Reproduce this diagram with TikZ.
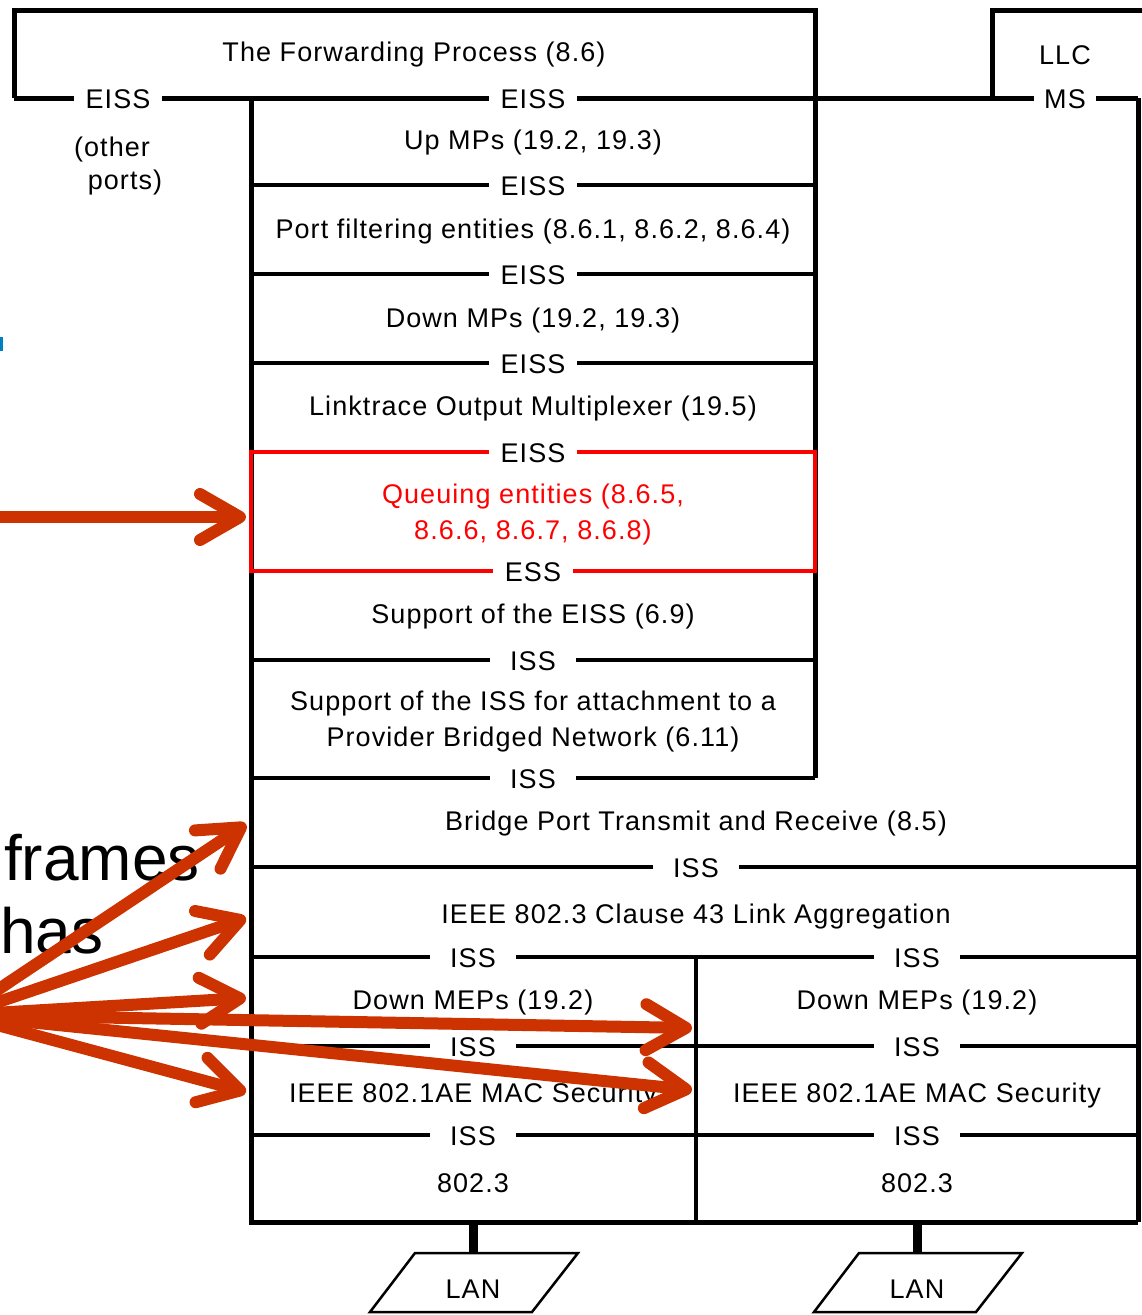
\documentclass[tikz,border=0pt]{standalone}
\usepackage{fontspec}
\setmainfont{Liberation Sans}[LetterSpace=4]
\usetikzlibrary{arrows.meta,calc}
\definecolor{pointer}{RGB}{204,51,0}
\definecolor{hl}{RGB}{255,0,0}
\definecolor{cut}{RGB}{0,128,192}
\newfontfamily\slidefont{Liberation Sans}

\begin{document}
\begin{tikzpicture}[x=1pt,y=-1pt,
  heavy/.style={line width=5pt},
  frame/.style={line width=4pt},
  sap/.style={fill=white, inner xsep=12pt, inner ysep=1pt, yshift=-1pt, font=\fontsize{27}{30}\selectfont},
  layer/.style={font=\fontsize{27}{36}\selectfont, align=center, inner sep=0pt, yshift=-2.5pt},
  big/.style={font=\slidefont\fontsize{64}{70}\selectfont, anchor=base west, inner sep=0pt},
  pointer/.style={draw=pointer, line width=12pt, line cap=round,
    -{Straight Barb[length=40pt,width=46pt,round]}},
  lan/.style={line width=2.5pt, line join=miter}
]
\useasboundingbox (0,0) rectangle (1141,1315);

% --- frame of the bridge port stack ---
\draw[heavy] (14,98) -- (14,10) -- (815,10) -- (815,778);
\draw[heavy] (14,98) -- (1138,98);
\draw[heavy] (992,98) -- (992,10) -- (1145,10);
\draw[heavy] (1138,98) -- (1138,1222);
\draw[heavy] (251,98) -- (251,1222) -- (1138,1222);

% layer boundaries
\foreach \y in {185,274,363,660,778}
  \draw[frame] (251,\y) -- (815,\y);
\foreach \y in {867,957,1046,1135}
  \draw[frame] (251,\y) -- (1138,\y);
\draw[line width=3.5pt] (696,957) -- (696,1222);

% highlighted queuing layer
\draw[hl, frame] (251,452) rectangle (815,571);

% --- layer names ---
\node[layer] (fwd) at (414,52) {The Forwarding Process (8.6)};
\node[layer] (llc) at (1065,53) {LLC};
\node[layer] (oth1) at (112,147) {(other};
\node[layer] (oth2) at (125,180) {ports)};
\node[layer] (upmp) at (533,140) {Up MPs (19.2, 19.3)};
\node[layer] (pfe) at (533,229) {Port filtering entities (8.6.1, 8.6.2, 8.6.4)};
\node[layer] (dnmp) at (533,318) {Down MPs (19.2, 19.3)};
\node[layer] (ltom) at (533,406) {Linktrace Output Multiplexer (19.5)};
\node[layer, text=hl] (queue) at (533,512) {Queuing entities (8.6.5,\\8.6.6, 8.6.7, 8.6.8)};
\node[layer] (seiss) at (533,614) {Support of the EISS (6.9)};
\node[layer] (siss) at (533,719) {Support of the ISS for attachment to a\\Provider Bridged Network (6.11)};
\node[layer] (bptr) at (696,821) {Bridge Port Transmit and Receive (8.5)};
\node[layer] (lag) at (696,914) {IEEE 802.3 Clause 43 Link Aggregation};
\node[layer] (mepA) at (473,1000) {Down MEPs (19.2)};
\node[layer] (mepB) at (917,1000) {Down MEPs (19.2)};
\node[layer] (secA) at (473,1093) {IEEE 802.1AE MAC Security};
\node[layer] (secB) at (917,1093) {IEEE 802.1AE MAC Security};
\node[layer] (macA) at (473,1181) {802.3};
\node[layer] (macB) at (917,1181) {802.3};

% --- service access points on the boundaries ---
\node[sap] at (118,98) {EISS};
\node[sap] at (533,98) {EISS};
\node[sap, inner xsep=10pt] at (1065,98) {MS};
\node[sap] at (533,185) {EISS};
\node[sap] at (533,274) {EISS};
\node[sap] at (533,363) {EISS};
\node[sap] at (533,452) {EISS};
\node[sap] at (533,571) {ESS};
\node[sap, inner xsep=20pt] at (533,660) {ISS};
\node[sap, inner xsep=20pt] at (533,778) {ISS};
\node[sap, inner xsep=20pt] at (696,867) {ISS};
\foreach \x in {473,917}{
  \node[sap, inner xsep=20pt] at (\x,957) {ISS};
  \node[sap, inner xsep=20pt] at (\x,1046) {ISS};
  \node[sap, inner xsep=20pt] at (\x,1135) {ISS};
}

% --- LAN attachments ---
\foreach \x/\n in {473/A,917/B}{
  \coordinate (port\n) at (\x,1222);
  \node[layer] (lan\n) at (\x,1287) {LAN};
  \draw[line width=9pt] (port\n) -- (\x,1254);
  \draw[lan] ($(\x,1253)+(-58,0)$) -- ++(163,0) -- ++(-46,59) -- ++(-162,0) -- cycle;
}

% --- slide text at the left ---
\node[big] (frames) at (4,880) {frames};
\node[big] (has) at (0,953) {has};
\fill[cut] (0,337) rectangle (2.5,351);

% --- pointers ---
\coordinate (src) at (-40,1015);
\coordinate (srcq) at (-20,517);
\coordinate (tq) at (246,517);
\coordinate (tbp) at (246,824);
\coordinate (tlag) at (246,918);
\coordinate (tmepA) at (246,998);
\coordinate (tmepB) at (692,1028);
\coordinate (tsecB) at (692,1090);
\coordinate (tsecA) at (246,1092);
\draw[pointer] (srcq) -- (tq);
\foreach \t in {tbp,tlag,tmepA,tmepB,tsecB,tsecA}
  \draw[pointer] (src) -- (\t);
\end{tikzpicture}
\end{document}
